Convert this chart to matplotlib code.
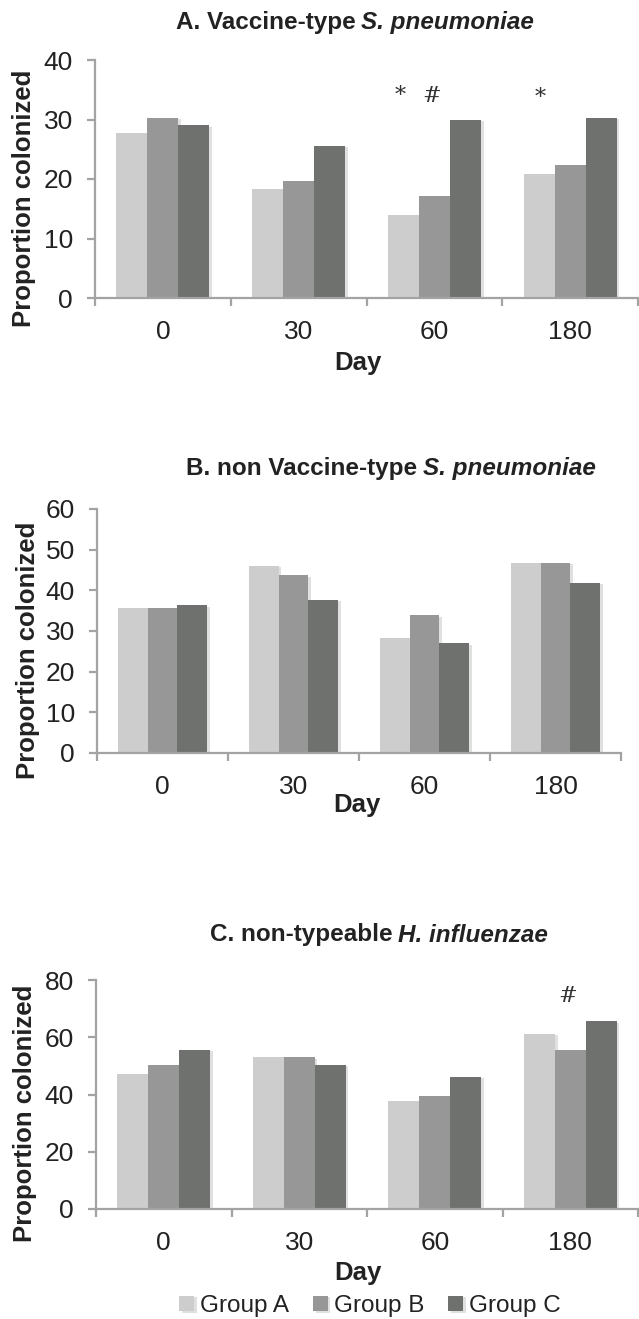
import matplotlib
matplotlib.use("Agg")
import matplotlib.pyplot as plt
import matplotlib.patheffects as pe
import numpy as np

plt.rcParams['font.family'] = ['Liberation Sans Narrow', 'Liberation Sans', 'DejaVu Sans']

days = ["0", "30", "60", "180"]
groups = ["Group A", "Group B", "Group C"]
colors = ["#cdcdcd", "#979797", "#6f716f"]

# proportion colonized per group, per day
vt_a = [27.8, 18.3, 14.0, 20.9]
vt_b = [30.3, 19.7, 17.1, 22.3]
vt_c = [29.0, 25.6, 29.9, 30.3]

nvt_a = [35.7, 46.1, 28.2, 46.8]
nvt_b = [35.7, 43.7, 33.9, 46.8]
nvt_c = [36.3, 37.6, 27.0, 41.9]

nthi_a = [47.0, 53.0, 37.8, 61.3]
nthi_b = [50.4, 53.0, 39.6, 55.6]
nthi_c = [55.6, 50.4, 46.2, 65.6]

W, H = 639, 1319
fig = plt.figure(figsize=(W / 100, H / 100), dpi=100)
renderer = fig.canvas.get_renderer()

axis_col = "#a3a3a3"
txt_col = "#222222"
fs_tick = 19
fs_bold = 18.5
fs_title = 17.5

def fx(px):
    return px / W

def fy(py):
    return 1 - py / H

def title_text(xc, yc, plain, ital):
    # plain bold part followed by a bold italic species name, centred as a whole
    t1 = fig.text(0, fy(yc), plain, ha="left", va="center", fontsize=fs_title, fontweight="bold", color=txt_col)
    t2 = fig.text(0, fy(yc), ital, ha="left", va="center", fontsize=fs_title, fontweight="bold",
                  style="italic", color=txt_col)
    w1 = t1.get_window_extent(renderer).width
    w2 = t2.get_window_extent(renderer).width
    gap = 5
    x0 = xc - (w1 + gap + w2) / 2
    t1.set_x(fx(x0))
    t2.set_x(fx(x0 + w1 + gap))

def panel(rect, a, b, c, ymax, step, notes):
    ax = fig.add_axes(rect)
    x = np.arange(len(days))
    w = 0.228
    for i, (vals, col) in enumerate(zip([a, b, c], colors)):
        bars = ax.bar(x + (i - 1) * w, vals, w, color=col, label=groups[i], zorder=2)
        for p in bars:
            p.set_path_effects([pe.SimplePatchShadow(offset=(2, -1), shadow_rgbFace="#000000", alpha=0.12), pe.Normal()])
    ax.set_xlim(-0.5, len(days) - 0.5)
    ax.set_ylim(0, ymax)
    ax.set_yticks(np.arange(0, ymax + 1, step))
    ax.set_xticks(x)
    ax.set_xticklabels(days)
    ax.set_xticks(np.arange(-0.5, len(days)), minor=True)
    ax.tick_params(axis="x", which="major", length=0, pad=16, labelsize=fs_tick, labelcolor=txt_col)
    ax.tick_params(axis="x", which="minor", length=6, width=1.6, color=axis_col, direction="out")
    ax.tick_params(axis="y", length=6, width=1.6, color=axis_col, labelsize=fs_tick, labelcolor=txt_col, pad=10)
    for s in ["top", "right"]:
        ax.spines[s].set_visible(False)
    for s in ["left", "bottom"]:
        ax.spines[s].set_color(axis_col)
        ax.spines[s].set_linewidth(1.6)
    ax.set_ylabel("Proportion colonized", fontsize=fs_bold, fontweight="bold", color=txt_col)
    ax.yaxis.set_label_coords(-0.108, 0.42)
    for (xn, yn, s) in notes:
        ax.text(xn, yn, s, ha="center", va="center", fontsize=16, color="#333333", family="DejaVu Serif")
    return ax

axA = panel([fx(95), fy(298), fx(638) - fx(95), fy(60) - fy(298)], vt_a, vt_b, vt_c, 40, 10,
            [(2 - 0.25, 33.9, "*"), (2 - 0.02, 33.9, "#"), (3 - 0.22, 33.6, "*")])
title_text(355, 23, "A. Vaccine-type", "S. pneumoniae")
fig.text(fx(358), fy(363), "Day", ha="center", va="center", fontsize=fs_bold, fontweight="bold", color=txt_col)

axB = panel([fx(97), fy(753), fx(621) - fx(97), fy(509) - fy(753)], nvt_a, nvt_b, nvt_c, 60, 10, [])
title_text(391, 468, "B. non Vaccine-type", "S. pneumoniae")
fig.text(fx(357), fy(805), "Day", ha="center", va="center", fontsize=fs_bold, fontweight="bold", color=txt_col)

axC = panel([fx(96), fy(1209), fx(638) - fx(96), fy(980) - fy(1209)], nthi_a, nthi_b, nthi_c, 80, 20,
            [(3 - 0.02, 74.4, "#")])
title_text(379, 935, "C. non-typeable", "H. influenzae")
fig.text(fx(358), fy(1273), "Day", ha="center", va="center", fontsize=fs_bold, fontweight="bold", color=txt_col)

handles, labels = axC.get_legend_handles_labels()
fig.legend(handles, labels, loc="center", bbox_to_anchor=(fx(370), fy(1306)), ncol=3, frameon=False,
           fontsize=17.5, handlelength=0.6, handleheight=0.6, handletextpad=0.25, columnspacing=1.0,
           labelcolor=txt_col)

fig.savefig("out.png", dpi=100)
